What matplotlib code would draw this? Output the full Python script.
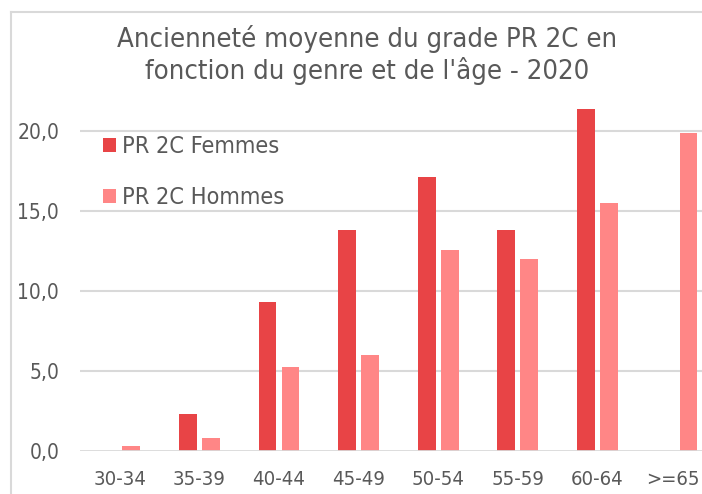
import matplotlib
matplotlib.use("Agg")
import matplotlib.pyplot as plt
from matplotlib.lines import Line2D
from matplotlib.transforms import ScaledTranslation
import numpy as np

age_groups = ["30-34", "35-39", "40-44", "45-49", "50-54", "55-59", "60-64", ">=65"]
femmes = [0.0, 2.3, 9.3, 13.8, 17.1, 13.8, 21.4, 0.0]
hommes = [0.3, 0.8, 5.25, 6.0, 12.55, 12.0, 15.5, 19.85]
y_ticks = [0, 5, 10, 15, 20]
y_labels = ["0,0", "5,0", "10,0", "15,0", "20,0"]

col_f = "#E84446"
col_h = "#FF8686"
txt = "#595959"
grid = "#D9D9D9"

plt.rcParams["font.family"] = "DejaVu Sans"
plt.rcParams["font.stretch"] = "condensed"

fig = plt.figure(figsize=(7.02, 4.94), dpi=100)
ax = fig.add_axes([80 / 702, 43 / 494, 8 * 79.6 / 702, 22.5 * 16 / 494])

x = np.arange(len(age_groups))
w = 0.226
off = 0.1445
ax.bar(x - off, femmes, w, color=col_f, label="PR 2C Femmes")
ax.bar(x + off, hommes, w, color=col_h, label="PR 2C Hommes")

ax.set_xlim(-0.5, len(age_groups) - 0.5)
ax.set_ylim(0, 22.5)
ax.set_yticks(y_ticks)
ax.set_yticklabels(y_labels)
ax.set_xticks(x)
ax.set_xticklabels(age_groups)
ax.tick_params(axis="y", length=0, pad=15, labelsize=15, labelcolor=txt)
ax.tick_params(axis="x", length=0, pad=14, labelsize=14.6, labelcolor=txt)

# last category sits at the right edge, pull its label in a little
last = ax.get_xticklabels()[-1]
last.set_transform(last.get_transform() + ScaledTranslation(-4 / 100, 0, fig.dpi_scale_trans))

for v in y_ticks[1:]:
    ax.axhline(v, color=grid, lw=1.5, zorder=0)
ax.axhline(0, color=grid, lw=2, zorder=3)
for s in ax.spines.values():
    s.set_visible(False)

ax.legend(loc="upper left", bbox_to_anchor=(0.003, 0.935), frameon=False,
          fontsize=16.8, labelcolor=txt, handlelength=0.55, handleheight=0.55,
          handletextpad=0.25, labelspacing=1.2)

fig.text(367 / 702, 1 - 55 / 494, "Ancienneté moyenne du grade PR 2C en\nfonction du genre et de l'âge - 2020",
         ha="center", va="center", fontsize=19.7, color=txt, linespacing=1.2)

# chart area border (top and left edges)
fig.add_artist(Line2D([11 / 702, 11 / 702], [0, 1 - 12 / 494], transform=fig.transFigure,
                      color=grid, lw=1.5))
fig.add_artist(Line2D([11 / 702, 1], [1 - 12 / 494, 1 - 12 / 494], transform=fig.transFigure,
                      color=grid, lw=1.5))

fig.savefig("out.png", dpi=100)
